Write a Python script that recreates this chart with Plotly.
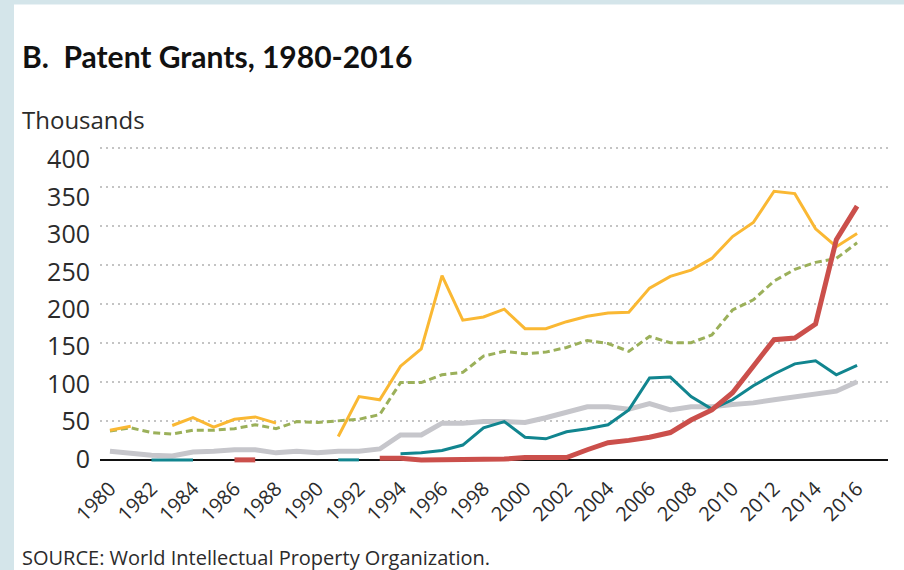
import plotly.graph_objects as go

years = list(range(1980, 2017))

# thousands of patent grants (None = no data)
yellow = [38, 43, None, 44, 54, 42, 52, 55, 47, None, None, 30, 81, 77, 120, 142, 236, 179, 183, 193,
          168, 168, 177, 184, 188, 189, 220, 235, 243, 258, 286, 304, 344, 341, 296, 273, 290]
green = [37, 41, 35, 33, 38, 38, 40, 45, 40, 49, 48, 50, 52, 58, 99, 99, 109, 112, 133, 139,
         136, 138, 144, 153, 149, 139, 158, 150, 150, 160, 192, 205, 229, 244, 253, 258, 278]
gray = [11, 8, 6, 5, 10, 11, 13, 13, 9, 11, 9, 11, 11, 14, 32, 32, 47, 47, 49, 49,
        48, 54, 61, 68, 68, 65, 72, 64, 68, 68, 71, 73, 77, 81, 85, 88, 100]
teal = [None, None, 0, 0, 0, None, None, None, None, None, None, 0, 0, None, 8, 9, 12, 19, 41, 49,
        29, 27, 36, 40, 45, 64, 105, 106, 81, 65, 77, 95, 110, 123, 127, 109, 121]
red = [None, None, None, None, None, None, 0, 0, None, None, None, None, None, 2, 2, 0, 0, 1, 1, 1,
       3, 3, 3, 13, 22, 25, 29, 35, 51, 64, 86, 120, 154, 156, 174, 282, 325]

tick_years = list(range(1980, 2017, 2))
y_ticks = [0, 50, 100, 150, 200, 250, 300, 350, 400]

W, H = 904, 570
L, R, T, B = 100, 16, 146.4, 106.9
pw, ph = W - L - R, H - T - B


def px(x):
    return (x - L) / pw


def py(y):
    return (H - B - y) / ph


fig = go.Figure()
fig.add_trace(go.Scatter(x=years, y=gray, mode='lines', line=dict(color='#C6C6CB', width=5)))
fig.add_trace(go.Scatter(x=years, y=green, mode='lines', line=dict(color='#9BB05A', width=3, dash='7px,4px')))
fig.add_trace(go.Scatter(x=years, y=yellow, mode='lines', line=dict(color='#FAB833', width=3)))
fig.add_trace(go.Scatter(x=years, y=teal, mode='lines', line=dict(color='#11858F', width=3)))
fig.add_trace(go.Scatter(x=years, y=red, mode='lines', line=dict(color='#CB4F4B', width=5)))
# empty trace so the label axis (slightly offset from the grid, as in the original) is drawn
fig.add_trace(go.Scatter(x=[None], y=[None], yaxis='y2', mode='lines', hoverinfo='skip'))

tick_font = dict(family='Open Sans, sans-serif', color='#2b2b2b')

fig.update_layout(
    width=W, height=H,
    margin=dict(l=L, r=R, t=T, b=B),
    paper_bgcolor='#D4E5EA',
    plot_bgcolor='white',
    showlegend=False,
    shapes=[dict(type='rect', xref='paper', yref='paper', layer='below',
                 x0=px(14), x1=px(W + 5), y0=py(H + 5), y1=py(5),
                 fillcolor='white', line=dict(width=0))],
    annotations=[
        dict(text='<b>B.  Patent Grants, 1980-2016</b>', xref='paper', yref='paper',
             x=px(20), y=py(56), xanchor='left', yanchor='middle', showarrow=False,
             font=dict(family='Lato, sans-serif', size=30, color='#111111')),
        dict(text='Thousands', xref='paper', yref='paper',
             x=px(20), y=py(120), xanchor='left', yanchor='middle', showarrow=False,
             font=dict(tick_font, size=24)),
        dict(text='SOURCE: World Intellectual Property Organization.', xref='paper', yref='paper',
             x=px(20), y=py(558), xanchor='left', yanchor='middle', showarrow=False,
             font=dict(tick_font, size=20)),
    ],
    yaxis2=dict(
        overlaying='y', side='left', range=[-5.5, 418.2],
        tickmode='array', tickvals=y_ticks,
        tickfont=dict(tick_font, size=25), ticklabelstandoff=9,
        showgrid=False, zeroline=False, showline=False, ticks='',
    ),
)
fig.update_xaxes(
    range=[1979.52, 2017.49],
    tickmode='array', tickvals=tick_years, ticktext=[str(y) for y in tick_years],
    tickangle=-45, tickfont=dict(tick_font, size=20), ticklabelstandoff=9,
    showgrid=False, zeroline=False, showline=False, ticks='',
)
fig.update_yaxes(
    range=[-4, 402],
    tickmode='array', tickvals=y_ticks, showticklabels=False,
    showgrid=True, gridcolor='#C4C4C4', gridwidth=2, griddash='2px,4px',
    zeroline=True, zerolinecolor='#111111', zerolinewidth=1.5,
    showline=False, ticks='',
    selector=dict(overlaying=None),
)

fig.write_html("out.html", config={'displayModeBar': False},
               post_script="document.body.style.margin='0px';")
